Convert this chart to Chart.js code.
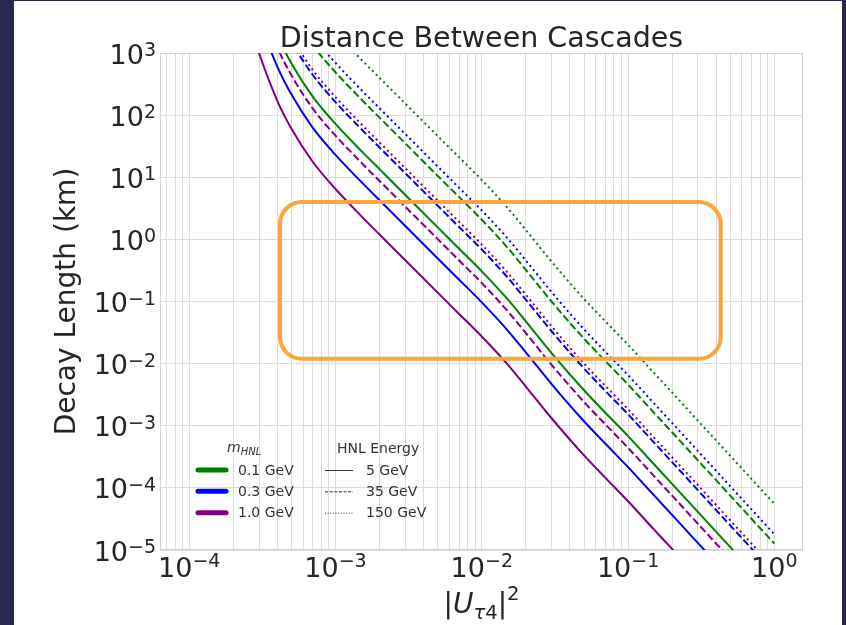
<!DOCTYPE html>
<html lang="en">
<head>
<meta charset="UTF-8">
<title>Distance Between Cascades</title>
<script src="https://cdn.jsdelivr.net/npm/chart.js@4.4.1/dist/chart.umd.min.js"></script>
<style>
  html, body { margin: 0; padding: 0; background: #2b2852; }
  #wrap { width: 846px; height: 625px; }
</style>
</head>
<body>
<div id="wrap"><canvas id="chart" width="846" height="625"></canvas></div>
<script>
// |U_tau4|^2 sample points, shared by every curve
const uSq = [2.5e-4, 3e-4, 4e-4, 5e-4, 7e-4, 1e-3, 1.5e-3, 2e-3, 3e-3, 5e-3, 7e-3, 1e-2,
  1.5e-2, 2e-2, 3e-2, 5e-2, 7e-2, 0.1, 0.15, 0.2, 0.3, 0.5, 0.7, 1.0];

// decay length (km), one array per HNL mass / energy
const m01_E5 = [4.47e4, 1.12e4, 1.91e3, 6.76e2, 1.97e2, 72.4, 26.6, 13.5, 5.19, 1.56, 0.708, 0.306,
  0.109, 0.0480, 0.0148, 3.73e-3, 1.62e-3, 6.82e-4, 2.42e-4, 1.16e-4, 4.11e-5, 1.11e-5, 4.68e-6, 1.87e-6];
const m01_E35 = [3.02e5, 7.59e4, 1.29e4, 4.57e3, 1.33e3, 4.90e2, 1.80e2, 91.2, 35.1, 10.5, 4.79, 2.07,
  0.736, 0.324, 0.100, 0.0252, 0.0110, 4.61e-3, 1.63e-3, 7.85e-4, 2.78e-4, 7.50e-5, 3.16e-5, 1.27e-5];
const m01_E150 = [1.32e6, 3.31e5, 5.62e4, 2.00e4, 5.82e3, 2.14e3, 7.85e2, 3.98e2, 1.53e2, 46.0, 20.9, 9.04,
  3.21, 1.42, 0.438, 0.110, 0.0479, 0.0201, 7.13e-3, 3.43e-3, 1.21e-3, 3.27e-4, 1.38e-4, 5.53e-5];

const m03_E5 = [1.41e4, 3.55e3, 6.03e2, 2.14e2, 62.4, 22.9, 8.41, 4.27, 1.64, 0.493, 0.224, 0.0968,
  0.0344, 0.0152, 4.69e-3, 1.18e-3, 5.13e-4, 2.16e-4, 7.64e-5, 3.67e-5, 1.30e-5, 3.51e-6, 1.48e-6, 5.93e-7];
const m03_E35 = [1.00e5, 2.51e4, 4.27e3, 1.51e3, 4.42e2, 1.62e2, 59.6, 30.2, 11.6, 3.49, 1.58, 0.686,
  0.244, 0.107, 0.0332, 8.36e-3, 3.63e-3, 1.53e-3, 5.41e-4, 2.60e-4, 9.20e-5, 2.48e-5, 1.05e-5, 4.20e-6];
const m03_E150 = [4.27e5, 1.07e5, 1.82e4, 6.46e3, 1.88e3, 6.92e2, 2.54e2, 1.29e2, 49.5, 14.9, 6.76, 2.92,
  1.04, 0.458, 0.142, 0.0356, 0.0155, 6.52e-3, 2.31e-3, 1.11e-3, 3.93e-4, 1.06e-4, 4.47e-5, 1.79e-5];

const m10_E5 = [3.98e3, 1.00e3, 1.70e2, 60.3, 17.6, 6.46, 2.37, 1.20, 0.462, 0.139, 0.0631, 0.0273,
  9.71e-3, 4.28e-3, 1.32e-3, 3.33e-4, 1.45e-4, 6.08e-5, 2.15e-5, 1.04e-5, 3.66e-6, 9.89e-7, 4.17e-7, 1.67e-7];
const m10_E35 = [2.88e4, 7.24e3, 1.23e3, 4.37e2, 1.27e2, 46.8, 17.2, 8.71, 3.35, 1.01, 0.457, 0.198,
  0.0703, 0.0310, 9.57e-3, 2.41e-3, 1.05e-3, 4.41e-4, 1.56e-4, 7.50e-5, 2.65e-5, 7.16e-6, 3.02e-6, 1.21e-6];
const m10_E150 = [1.20e5, 3.02e4, 5.13e3, 1.82e3, 5.31e2, 1.95e2, 71.6, 36.3, 14.0, 4.20, 1.91, 0.824,
  0.293, 0.129, 0.0399, 0.0100, 4.37e-3, 1.84e-3, 6.50e-4, 3.13e-4, 1.11e-4, 2.99e-5, 1.26e-5, 5.05e-6];

const massLabels = ["0.1 GeV", "0.3 GeV", "1.0 GeV"];
const energyLabels = ["5 GeV", "35 GeV", "150 GeV"];

// axis decades (tick labels) and minor grid multipliers
const xTickExps = [-4, -3, -2, -1, 0];
const yTickExps = [-5, -4, -3, -2, -1, 0, 1, 2, 3];
const xMinorMults = [2, 3, 4, 5, 6, 7, 8, 9];

// highlighted region (data units)
const boxU = [4.17e-4, 0.430];
const boxL = [0.01194, 3.99];

const massColors = ["#008000", "#0000ff", "#800080"];
const energyDash = [[], [7.4, 3.2], [2, 3.3]];
const curves = [
  [m01_E5, m01_E35, m01_E150],
  [m03_E5, m03_E35, m03_E150],
  [m10_E5, m10_E35, m10_E150],
];

const X_MIN = Math.pow(10, -4.2);
const X_MAX = Math.pow(10, 0.196);

const xGrid = [];
for (let e = -5; e <= 0; e++) {
  xGrid.push(Math.pow(10, e));
  for (const m of xMinorMults) xGrid.push(m * Math.pow(10, e));
}
const xGridValues = xGrid.filter(v => v >= X_MIN && v <= X_MAX);

const datasets = [];
curves.forEach((row, mi) => {
  row.forEach((vals, ei) => {
    datasets.push({
      label: massLabels[mi] + " / " + energyLabels[ei],
      data: uSq.map((u, i) => ({ x: u, y: vals[i] })),
      borderColor: massColors[mi],
      borderWidth: 2,
      borderDash: energyDash[ei],
      borderCapStyle: "butt",
      pointRadius: 0,
      cubicInterpolationMode: "monotone",
      fill: false,
    });
  });
});

const TEXT = "#262626";
const FONT = "'DejaVu Sans', sans-serif";

const backdrop = {
  id: "backdrop",
  beforeDraw(chart) {
    const ctx = chart.ctx;
    ctx.save();
    ctx.fillStyle = "#2b2852";
    ctx.fillRect(0, 0, chart.width, chart.height);
    ctx.fillStyle = "#ffffff";
    ctx.fillRect(14, 1, 828, chart.height - 1);
    ctx.restore();
  },
};

const frame = {
  id: "frame",
  beforeDatasetsDraw(chart) {
    const { ctx, chartArea: a } = chart;
    ctx.save();
    ctx.strokeStyle = "#d2d2d2";
    ctx.lineWidth = 1;
    ctx.strokeRect(Math.round(a.left) + 0.5, Math.round(a.top) + 0.5,
      Math.round(a.right - a.left) - 1, Math.round(a.bottom - a.top) - 1);
    ctx.restore();
  },
};

const highlight = {
  id: "highlight",
  afterDatasetsDraw(chart) {
    const { ctx, scales: { x, y } } = chart;
    const x0 = x.getPixelForValue(boxU[0]), x1 = x.getPixelForValue(boxU[1]);
    const y0 = y.getPixelForValue(boxL[1]), y1 = y.getPixelForValue(boxL[0]);
    ctx.save();
    ctx.strokeStyle = "#fba53b";
    ctx.lineWidth = 4;
    ctx.beginPath();
    ctx.roundRect(x0, y0, x1 - x0, y1 - y0, 22);
    ctx.stroke();
    ctx.restore();
  },
};

function drawPower(ctx, exp, x, baseline, raise, anchor) {
  const base = "10";
  const sup = exp < 0 ? "\u2212" + Math.abs(exp) : String(exp);
  ctx.font = "27px " + FONT;
  const wb = ctx.measureText(base).width;
  ctx.font = "19px " + FONT;
  const ws = ctx.measureText(sup).width;
  const left = anchor === "center" ? x - (wb + ws) / 2 : x - (wb + ws);
  ctx.textAlign = "left";
  ctx.textBaseline = "alphabetic";
  ctx.font = "27px " + FONT;
  ctx.fillText(base, left, baseline);
  ctx.font = "19px " + FONT;
  ctx.fillText(sup, left + wb, baseline - raise);
}

const labels = {
  id: "labels",
  afterDraw(chart) {
    const { ctx, chartArea: a, scales: { x, y } } = chart;
    ctx.save();
    ctx.fillStyle = TEXT;

    xTickExps.forEach(e => {
      drawPower(ctx, e, x.getPixelForValue(Math.pow(10, e)), a.bottom + 27, 10, "center");
    });
    yTickExps.forEach(e => {
      drawPower(ctx, e, 156, y.getPixelForValue(Math.pow(10, e)) + 10.5, 7.5, "right");
    });

    // title
    const cx = (a.left + a.right) / 2;
    ctx.font = "28.5px " + FONT;
    ctx.textAlign = "center";
    ctx.textBaseline = "alphabetic";
    ctx.fillText("Distance Between Cascades", cx, 47);

    // y axis title
    ctx.save();
    ctx.translate(75, (a.top + a.bottom) / 2);
    ctx.rotate(-Math.PI / 2);
    ctx.font = "28px " + FONT;
    ctx.fillText("Decay Length (km)", 0, 0);
    ctx.restore();

    // x axis title |U_tau4|^2
    const parts = [
      { t: "|", f: "28px " + FONT, dy: 0 },
      { t: "U", f: "italic 28px " + FONT, dy: 0 },
      { t: "\u03c4", f: "italic 19.6px " + FONT, dy: 6 },
      { t: "4", f: "19.6px " + FONT, dy: 6 },
      { t: "|", f: "28px " + FONT, dy: 0 },
      { t: "2", f: "19.6px " + FONT, dy: -13 },
    ];
    let total = 0;
    parts.forEach(p => { ctx.font = p.f; p.w = ctx.measureText(p.t).width; total += p.w; });
    let px = cx - total / 2;
    ctx.textAlign = "left";
    parts.forEach(p => { ctx.font = p.f; ctx.fillText(p.t, px, 613 + p.dy); px += p.w; });
    ctx.restore();
  },
};

const legendBox = {
  id: "legendBox",
  afterDraw(chart) {
    const ctx = chart.ctx;
    const rows = [470, 491.3, 512.7];
    ctx.save();
    ctx.fillStyle = "#333333";
    ctx.textBaseline = "alphabetic";
    ctx.textAlign = "left";
    // m_HNL header
    ctx.font = "italic 14px " + FONT;
    ctx.fillText("m", 227, 452);
    const mw = ctx.measureText("m").width;
    ctx.font = "italic 10px " + FONT;
    ctx.fillText("HNL", 227 + mw, 455);
    // HNL Energy header
    ctx.font = "14px " + FONT;
    ctx.fillText("HNL Energy", 337, 453);

    ctx.textBaseline = "middle";
    massLabels.forEach((lab, i) => {
      ctx.strokeStyle = massColors[i];
      ctx.lineWidth = 5;
      ctx.lineCap = "round";
      ctx.setLineDash([]);
      ctx.beginPath();
      ctx.moveTo(198, rows[i]);
      ctx.lineTo(226, rows[i]);
      ctx.stroke();
      ctx.font = "14px " + FONT;
      ctx.fillText(lab, 238, rows[i] + 1);
    });
    const smallDash = [[], [3.2, 1.4], [1, 1.65]];
    energyLabels.forEach((lab, i) => {
      ctx.strokeStyle = "#333333";
      ctx.lineWidth = 1;
      ctx.lineCap = "butt";
      ctx.setLineDash(smallDash[i]);
      ctx.beginPath();
      ctx.moveTo(325, rows[i] + 0.5);
      ctx.lineTo(353, rows[i] + 0.5);
      ctx.stroke();
      ctx.setLineDash([]);
      ctx.font = "14px " + FONT;
      ctx.fillText(lab, 366, rows[i] + 1);
    });
    ctx.restore();
  },
};

new Chart(document.getElementById("chart"), {
  type: "line",
  data: { datasets },
  options: {
    responsive: false,
    animation: false,
    events: [],
    layout: { padding: { left: 160, right: 43, top: 53, bottom: 75 } },
    plugins: {
      legend: { display: false },
      title: { display: false },
      tooltip: { enabled: false },
    },
    scales: {
      x: {
        type: "logarithmic",
        min: X_MIN,
        max: X_MAX,
        afterBuildTicks: s => { s.ticks = xGridValues.map(v => ({ value: v })); },
        afterFit: s => { s.height = 0; },
        ticks: { display: false },
        grid: { color: "#dcdcdc", lineWidth: 1, drawTicks: false },
        border: { display: false },
      },
      y: {
        type: "logarithmic",
        min: 1e-5,
        max: 1e3,
        afterBuildTicks: s => { s.ticks = yTickExps.map(e => ({ value: Math.pow(10, e) })); },
        afterFit: s => { s.width = 0; },
        ticks: { display: false },
        grid: { color: "#dcdcdc", lineWidth: 1, drawTicks: false },
        border: { display: false },
      },
    },
  },
  plugins: [backdrop, frame, highlight, labels, legendBox],
});
</script>
</body>
</html>
